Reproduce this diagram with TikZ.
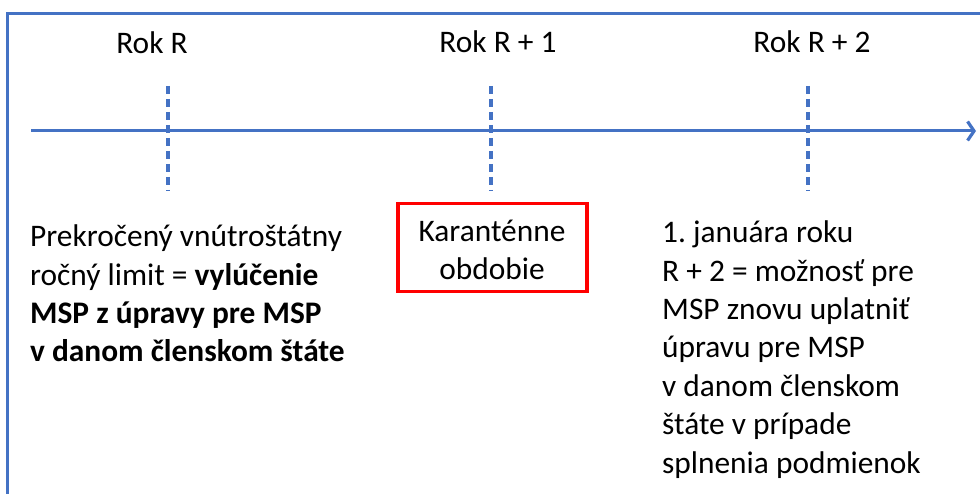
\documentclass[tikz,border=0pt]{standalone}
\usepackage{fontspec}
\setmainfont{Carlito}
\usetikzlibrary{arrows.meta}
\frenchspacing
\definecolor{axisblue}{HTML}{4472C4}
\definecolor{boxred}{HTML}{FF0000}
\tikzset{
  label text/.style={font=\fontsize{31.5}{38.5}\selectfont, inner sep=0pt, align=left},
  year/.style={font=\fontsize{31.5}{38.5}\selectfont, inner sep=0pt, anchor=base},
  tick/.style={axisblue, line width=3.5bp, dash pattern=on 8.5bp off 4.5bp},
  axisline/.style={axisblue, line width=3bp, -{Straight Barb[length=6.5bp, width=19bp, line width=3.2bp]}},
  quarantine/.style={draw=boxred, line width=3.5bp, minimum width=189bp, minimum height=88bp, inner sep=0pt}
}
\begin{document}
\begin{tikzpicture}[x=1bp, y=-1bp]
  \useasboundingbox (0,0) rectangle (980,494);
  % outer frame (top and left edges only)
  \coordinate (fbl) at (7.5,494);
  \coordinate (ftl) at (7.5,13.5);
  \coordinate (ftr) at (980,13.5);
  \draw[axisblue, line width=2.2bp] (fbl) -- (ftl) -- (ftr);

  % time axis
  \coordinate (axstart) at (31,131);
  \coordinate (axend) at (976,131);
  \draw[axisline] (axstart) -- (axend);

  % year markers
  \foreach \n/\x in {r0/168, r1/491, r2/808}{
    \coordinate (\n top) at (\x,86);
    \coordinate (\n bot) at (\x,191);
    \draw[tick] (\n top) -- (\n bot);
  }

  % year labels
  \node[year] (yr0) at (152,54) {Rok R};
  \node[year] (yr1) at (498,53) {Rok R + 1};
  \node[year] (yr2) at (812,53) {Rok R + 2};

  % left description (anchored at the baseline of its last line)
  \node[label text, anchor=base west] (left) at (30,362)
    {Prekročený vnútroštátny\\
     ročný limit = \textbf{vylúčenie}\\
     \textbf{MSP z úpravy pre MSP}\\
     \textbf{v danom členskom štáte}};

  % quarantine period box
  \node[quarantine] (box) at (492.5,247.5) {};
  \node[label text, align=center, anchor=base] (boxtext) at (492,280)
    {Karanténne\\obdobie};

  % right description
  \node[label text, anchor=base west] (right) at (662,473)
    {1. januára roku\\
     R + 2 = možnosť pre\\
     MSP znovu uplatniť\\
     úpravu pre MSP\\
     v danom členskom\\
     štáte v prípade\\
     splnenia podmienok};
\end{tikzpicture}
\end{document}
